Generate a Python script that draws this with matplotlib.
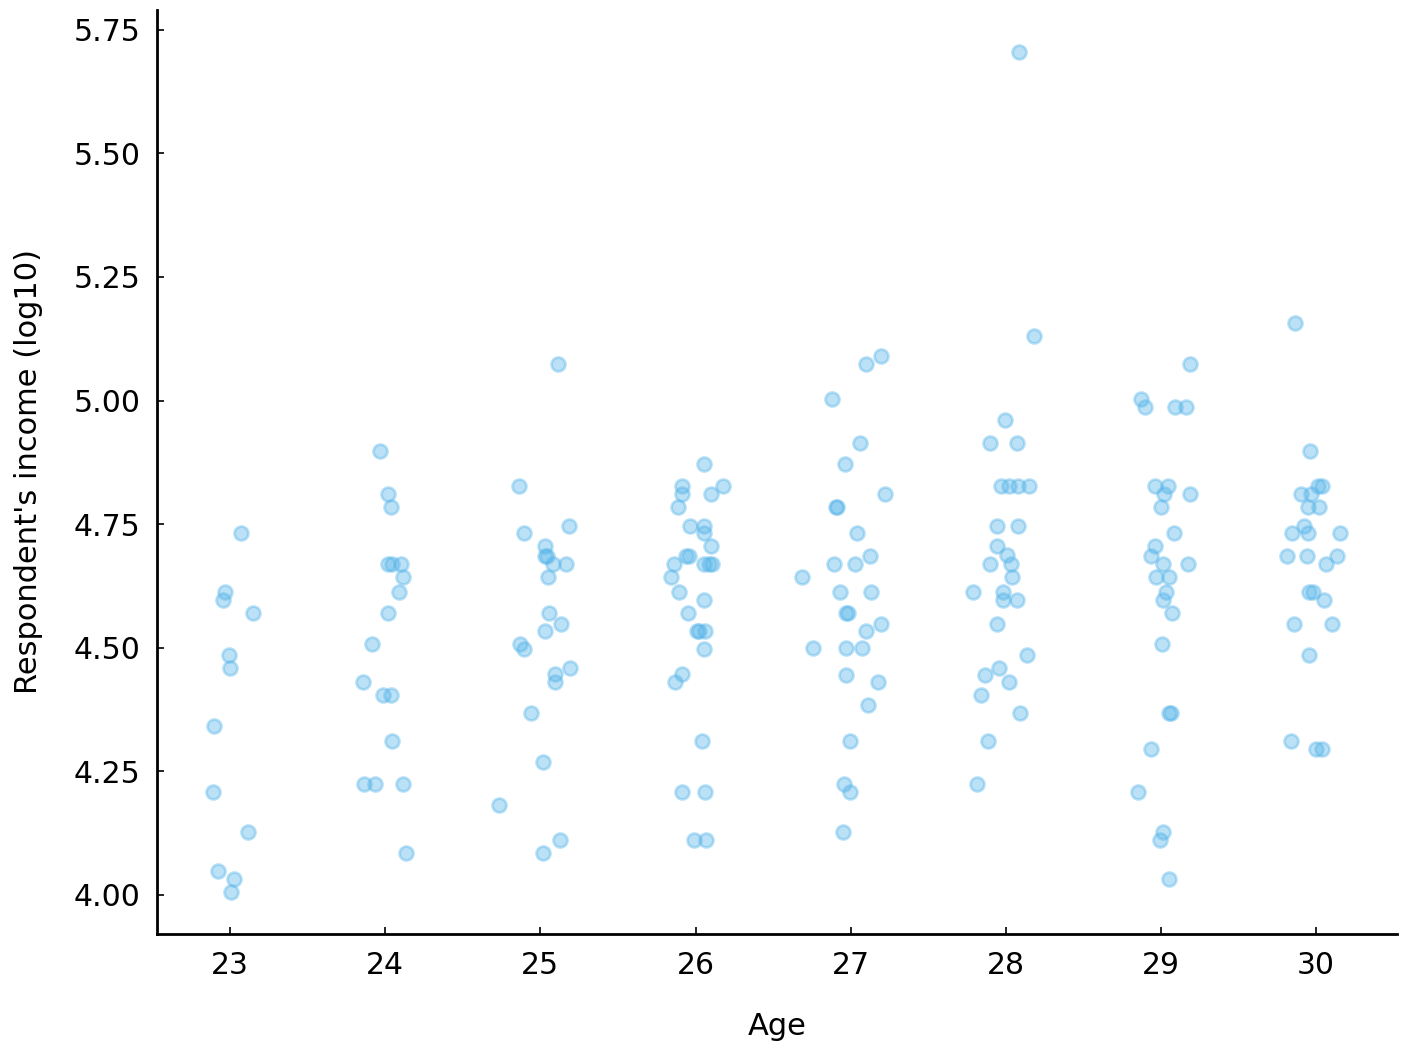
import matplotlib
matplotlib.use("Agg")
import matplotlib.pyplot as plt
import numpy as np

# Jittered age (x) and log10 income (y)
age_23 = [23.071, 22.968, 22.955, 23.150, 22.995, 23.002, 22.899, 22.890, 23.118, 22.925, 23.028, 23.008]
inc_23 = [4.732, 4.612, 4.596, 4.570, 4.486, 4.459, 4.342, 4.208, 4.127, 4.049, 4.032, 4.006]

age_24 = [23.969, 24.020, 24.038, 24.018, 24.044, 24.104, 24.115, 24.089, 24.018, 23.915, 23.857,
          23.984, 24.040, 24.044, 23.862, 23.937, 24.117, 24.136]
inc_24 = [4.898, 4.811, 4.784, 4.669, 4.669, 4.669, 4.643, 4.612, 4.570, 4.508, 4.430,
          4.405, 4.405, 4.311, 4.225, 4.225, 4.225, 4.085]

age_25 = [25.116, 24.865, 24.897, 25.187, 25.032, 25.032, 25.041, 25.080, 25.168, 25.052, 25.058,
          25.135, 25.032, 24.869, 24.897, 25.193, 25.097, 25.097, 24.942, 25.019, 24.736, 25.127, 25.019]
inc_25 = [5.074, 4.827, 4.732, 4.746, 4.706, 4.686, 4.686, 4.669, 4.669, 4.643, 4.570,
          4.548, 4.533, 4.508, 4.498, 4.459, 4.446, 4.431, 4.368, 4.269, 4.182, 4.111, 4.085]

age_26 = [26.057, 25.915, 26.176, 25.915, 26.102, 25.888, 25.963, 26.057, 26.057, 26.102, 25.939,
          25.961, 25.864, 26.057, 26.089, 26.107, 25.843, 25.896, 26.057, 25.954, 26.008, 26.025,
          26.064, 26.057, 25.915, 25.870, 26.044, 25.915, 26.064, 25.991, 26.070]
inc_26 = [4.872, 4.827, 4.827, 4.811, 4.811, 4.785, 4.746, 4.746, 4.732, 4.706, 4.686,
          4.686, 4.669, 4.669, 4.669, 4.669, 4.643, 4.613, 4.597, 4.570, 4.534, 4.534,
          4.534, 4.498, 4.446, 4.431, 4.311, 4.208, 4.208, 4.111, 4.111]

age_27 = [27.198, 27.101, 26.882, 27.063, 26.966, 27.224, 26.904, 26.915, 27.043, 27.127, 26.895,
          27.031, 26.689, 26.934, 27.134, 26.969, 26.985, 27.198, 27.101, 26.760, 26.973, 27.076,
          26.973, 27.179, 27.114, 26.998, 26.960, 26.998, 26.953]
inc_27 = [5.090, 5.074, 5.003, 4.914, 4.872, 4.811, 4.785, 4.785, 4.732, 4.686, 4.669,
          4.669, 4.643, 4.613, 4.613, 4.570, 4.570, 4.548, 4.534, 4.499, 4.499, 4.499,
          4.445, 4.431, 4.384, 4.311, 4.225, 4.208, 4.127]

age_28 = [28.086, 28.184, 27.997, 27.899, 28.075, 27.972, 28.019, 28.079, 28.152, 27.946, 28.081,
          27.946, 28.010, 27.899, 28.032, 28.043, 27.791, 27.984, 27.984, 28.075, 27.946, 28.139,
          27.959, 27.868, 28.023, 27.843, 28.094, 27.888, 27.817]
inc_28 = [5.705, 5.130, 4.961, 4.914, 4.914, 4.827, 4.827, 4.827, 4.827, 4.746, 4.746,
          4.705, 4.687, 4.669, 4.669, 4.643, 4.613, 4.613, 4.597, 4.597, 4.548, 4.485,
          4.459, 4.444, 4.431, 4.404, 4.368, 4.311, 4.225]

age_29 = [29.190, 28.874, 28.900, 29.093, 29.160, 28.964, 29.044, 29.018, 29.190, 29.003, 29.087,
          28.964, 28.938, 29.016, 29.177, 28.969, 29.051, 29.035, 29.016, 29.074, 29.009, 29.051,
          29.067, 28.938, 28.855, 29.016, 28.997, 29.055]
inc_29 = [5.074, 5.003, 4.987, 4.987, 4.987, 4.827, 4.827, 4.811, 4.811, 4.785, 4.732,
          4.705, 4.686, 4.669, 4.669, 4.643, 4.643, 4.613, 4.597, 4.570, 4.508, 4.368,
          4.368, 4.295, 4.208, 4.127, 4.111, 4.033]

age_30 = [29.865, 29.961, 30.013, 30.039, 29.903, 29.968, 29.948, 30.019, 29.923, 29.845, 29.948,
          30.157, 29.813, 29.944, 30.137, 30.066, 29.957, 29.983, 30.054, 29.858, 30.105, 29.957,
          29.839, 30.000, 30.039]
inc_30 = [5.157, 4.898, 4.827, 4.827, 4.811, 4.811, 4.785, 4.785, 4.746, 4.732, 4.732,
          4.732, 4.686, 4.686, 4.686, 4.669, 4.613, 4.613, 4.597, 4.548, 4.548, 4.485,
          4.311, 4.295, 4.295]

x_ticks = [23, 24, 25, 26, 27, 28, 29, 30]
y_ticks = [4.00, 4.25, 4.50, 4.75, 5.00, 5.25, 5.50, 5.75]

ages = np.concatenate([age_23, age_24, age_25, age_26, age_27, age_28, age_29, age_30])
incomes = np.concatenate([inc_23, inc_24, inc_25, inc_26, inc_27, inc_28, inc_29, inc_30])

color = "#56B4E9"

fig = plt.figure(figsize=(14.06, 10.52), dpi=100)
ax = fig.add_axes([0.1117, 0.1122, 0.8819, 0.8783])

ax.scatter(ages, incomes, s=100, color=color, alpha=0.4, linewidths=2, edgecolors=color)

ax.set_xlim(22.529, 30.522)
ax.set_ylim(3.921, 5.790)
ax.set_xticks(x_ticks)
ax.set_xticklabels([str(t) for t in x_ticks])
ax.set_yticks(y_ticks)
ax.set_yticklabels([f"{t:.2f}" for t in y_ticks])

for side in ["top", "right"]:
    ax.spines[side].set_visible(False)
for side in ["left", "bottom"]:
    ax.spines[side].set_linewidth(2)
    ax.spines[side].set_color("black")

ax.tick_params(direction="in", length=5, width=1.2, labelsize=21.5, pad=12)
ax.set_xlabel("Age", fontsize=22, labelpad=23)
ax.set_ylabel("Respondent's income (log10)", fontsize=22, labelpad=22)

fig.savefig("out.png", dpi=100)
